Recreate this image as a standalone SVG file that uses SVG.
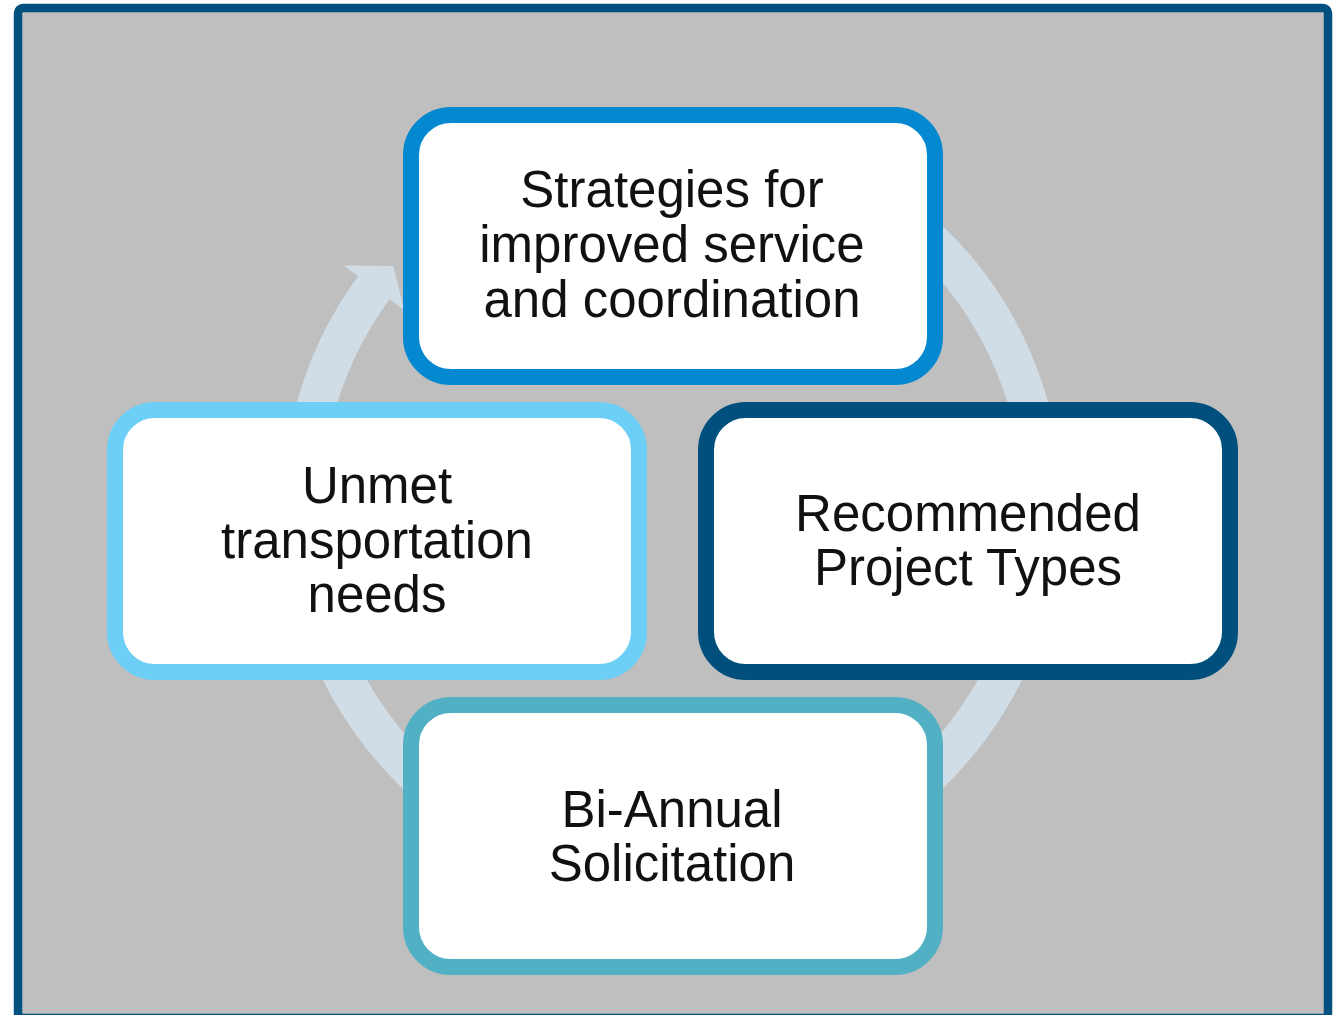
<svg xmlns="http://www.w3.org/2000/svg" width="1334" height="1015" viewBox="0 0 1334 1015">
  <style>
    .node rect { fill: #ffffff; stroke-width: 16; }
    .node text { font-family: "Liberation Sans", Arial, sans-serif; font-size: 51px; fill: #111111; text-anchor: middle; }
  </style>
  <rect x="0" y="0" width="1334" height="1015" fill="#ffffff"/>
  <rect id="frame" x="18" y="8" width="1310" height="1010" rx="5" fill="#bfbfbf" stroke="#02507d" stroke-width="8.5"/>
  <g id="connectors">
    <path d="M 608.2 142.1 A 370.5 370.5 0 1 1 378.6 281.4" fill="none" stroke="#d0dce6" stroke-width="39"/>
    <polygon points="343.7,265.5 393.3,266 404.1,309.9" fill="#d0dce6"/>
  </g>
  <g id="node-strategies" class="node">
    <rect x="411" y="115" width="524" height="262" rx="40" stroke="#0489d1"/>
    <text x="672" y="207">Strategies for</text>
    <text x="672" y="262">improved service</text>
    <text x="672" y="317">and coordination</text>
  </g>
  <g id="node-unmet" class="node">
    <rect x="115" y="410" width="524" height="262" rx="40" stroke="#6dcff6"/>
    <text x="377" y="503">Unmet</text>
    <text x="377" y="558">transportation</text>
    <text x="377" y="612">needs</text>
  </g>
  <g id="node-recommended" class="node">
    <rect x="706" y="410" width="524" height="262" rx="40" stroke="#014f7c"/>
    <text x="968" y="531">Recommended</text>
    <text x="968" y="585">Project Types</text>
  </g>
  <g id="node-solicitation" class="node">
    <rect x="411" y="705" width="524" height="262" rx="40" stroke="#52b0c4"/>
    <text x="672" y="827">Bi-Annual</text>
    <text x="672" y="881">Solicitation</text>
  </g>
</svg>
